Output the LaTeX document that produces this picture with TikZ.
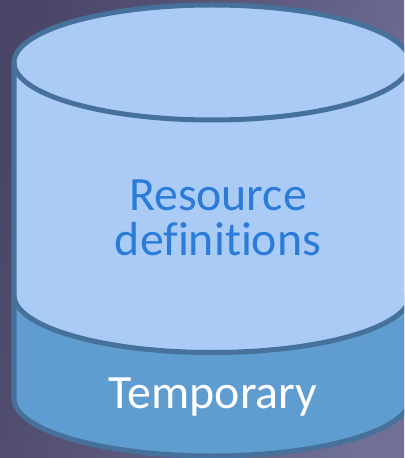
\documentclass[tikz,border=0pt]{standalone}
\usepackage{fontspec}
\setmainfont[Ligatures=NoCommon]{Carlito}
\usetikzlibrary{positioning}
\definecolor{rimblue}{HTML}{45719A}
\definecolor{paleblue}{HTML}{ABCBF7}
\definecolor{bandblue}{HTML}{5F9CD0}
\definecolor{inkblue}{HTML}{2A7CD8}
\definecolor{bgdark}{HTML}{4A4668}
\definecolor{bglight}{HTML}{706F96}
\tikzset{
  rim/.style = {draw = rimblue, line width = 1.25mm, line join = round},
  label/.style = {font = \fontsize{34}{31.6}\selectfont, align = center, anchor = base}
}

\begin{document}
\begin{tikzpicture}[x = 0.025cm, y = -0.025cm]
    \clip (0,0) rectangle (404,458);
    \useasboundingbox (0,0) rectangle (404,458);
    \shade[left color = bgdark, right color = bglight, shading angle = 75] (0,0) rectangle (404,458);

    \coordinate (topleft) at (14,62.5);
    \coordinate (midleft) at (14,295);
    \coordinate (baseleft) at (14,398.5);

    % lower band, then the pale body over it
    \fill[bandblue] (midleft) -- (baseleft) arc[start angle = 180, end angle = 360, x radius = 198, y radius = -57.5]
        -- (410,295) -- cycle;
    \fill[paleblue] (topleft) -- (midleft) arc[start angle = 180, end angle = 360, x radius = 198, y radius = -57.5]
        -- (410,62.5) arc[start angle = 0, end angle = 180, x radius = 198, y radius = -57.5] -- cycle;

    \draw[rim] (midleft) arc[start angle = 180, end angle = 360, x radius = 198, y radius = -57.5];
    \draw[rim] (topleft) -- (baseleft) arc[start angle = 180, end angle = 360, x radius = 198, y radius = -57.5] -- (410,62.5);
    \draw[rim] (212,62.5) ellipse[x radius = 198, y radius = 57.5];

    \node[label, text = inkblue] (resource) at (218,255) {Resource\\definitions};
    \node[label, text = white] (temporary) at (213,408) {Temporary};
\end{tikzpicture}
\end{document}
